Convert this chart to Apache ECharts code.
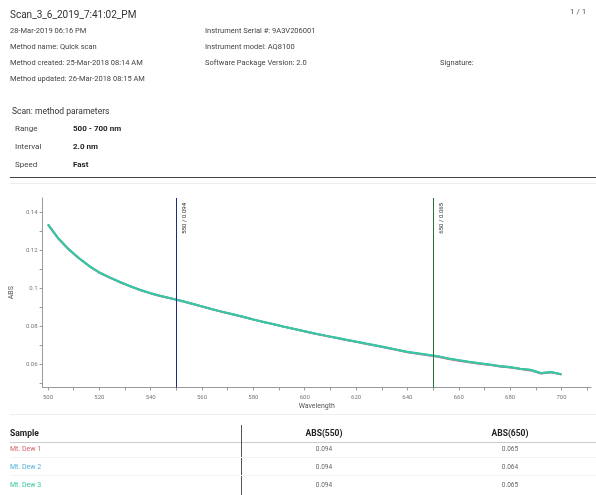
<!DOCTYPE html>
<html>
<head>
<meta charset="utf-8">
<script src="https://cdn.jsdelivr.net/npm/echarts@6/dist/echarts.min.js"></script>
<style>
  html, body { margin: 0; padding: 0; background: #fff; }
  body { width: 596px; height: 495px; position: relative; overflow: hidden; font-family: Roboto, "Noto Sans", sans-serif; }
  #chart { position: absolute; left: 0; top: 0; width: 596px; height: 495px; }
  .t { position: absolute; white-space: nowrap; line-height: 12px; color: #444; font-size: 7.5px; }
  .b { font-weight: bold; color: #222; }
  .line { position: absolute; height: 1px; }
</style>
</head>
<body>
<div id="chart"></div>

<div class="t" style="left:10px;top:9px;font-size:10px;color:#333">Scan_3_6_2019_7:41:02_PM</div>
<div class="t" style="left:570px;top:6px;font-size:8px;color:#555">1 / 1</div>

<div class="t" style="left:10px;top:25px">28-Mar-2019 06:16 PM</div>
<div class="t" style="left:10px;top:41px">Method name: Quick scan</div>
<div class="t" style="left:10px;top:57px">Method created: 25-Mar-2018 08:14 AM</div>
<div class="t" style="left:10px;top:73px">Method updated: 26-Mar-2018 08:15 AM</div>
<div class="t" style="left:205px;top:25px">Instrument Serial #: 9A3V206001</div>
<div class="t" style="left:205px;top:41px">Instrument model: AQ8100</div>
<div class="t" style="left:205px;top:57px">Software Package Version: 2.0</div>
<div class="t" style="left:440px;top:57px">Signature:</div>

<div class="t" style="left:12px;top:105px;font-size:8.5px;color:#333">Scan: method parameters</div>
<div class="t" style="left:15px;top:123px;font-size:8px">Range</div>
<div class="t b" style="left:73px;top:123px;font-size:8px">500 - 700 nm</div>
<div class="t" style="left:15px;top:141px;font-size:8px">Interval</div>
<div class="t b" style="left:73px;top:141px;font-size:8px">2.0 nm</div>
<div class="t" style="left:15px;top:159px;font-size:8px">Speed</div>
<div class="t b" style="left:73px;top:159px;font-size:8px">Fast</div>
<div class="line" style="left:10px;top:177px;width:586px;background:#444"></div>
<div class="line" style="left:10px;top:183px;width:586px;background:#eee"></div>
<div class="line" style="left:10px;top:414px;width:586px;background:#eee"></div>

<div id="table"></div>

<script>
// sample names and table values
const samples = ["Mt. Dew 1", "Mt. Dew 2", "Mt. Dew 3"];
const sampleColors = ["#d9606a", "#4fb3d9", "#38c79f"];
const abs550 = ["0.094", "0.094", "0.094"];
const abs650 = ["0.065", "0.064", "0.065"];

// marker lines
const markerNm = [550, 650];
const markerAbs = ["0.094", "0.065"];

// axis ticks
const xLabels = [500, 520, 540, 560, 580, 600, 620, 640, 660, 680, 700];
const xTicks = [500, 510, 520, 530, 540, 550, 560, 570, 580, 590, 600, 610, 620, 630, 640, 650, 660, 670, 680, 690, 700, 710];
const yLabels = [0.06, 0.08, 0.1, 0.12, 0.14];
const yTicks = [0.05, 0.06, 0.07, 0.08, 0.09, 0.1, 0.11, 0.12, 0.13, 0.14];

// spectra
const wavelength = [500,504,508,512,516,520,524,528,532,536,540,544,548,552,556,560,564,568,572,576,
  580,584,588,592,596,600,604,608,612,616,620,624,628,632,636,640,644,648,652,656,
  660,664,668,672,676,680,684,688,692,696,700];
const dew1 = [0.1334,0.1261,0.1204,0.1157,0.1116,0.1081,0.1055,0.1031,0.1009,0.0989,
  0.0972,0.0957,0.0945,0.0932,0.0918,0.0903,0.0888,0.0874,0.0861,0.0848,
  0.0834,0.0821,0.0809,0.0796,0.0784,0.0772,0.0760,0.0749,0.0738,0.0727,
  0.0717,0.0706,0.0696,0.0685,0.0674,0.0663,0.0655,0.0647,0.0639,0.0627,
  0.0618,0.0610,0.0602,0.0596,0.0588,0.0582,0.0574,0.0567,0.0551,0.0557,0.0545];
const dew2 = [0.1335,0.1262,0.1205,0.1158,0.1117,0.1082,0.1056,0.1032,0.1010,0.0990,
  0.0973,0.0958,0.0945,0.0932,0.0918,0.0903,0.0889,0.0875,0.0862,0.0849,
  0.0835,0.0822,0.0810,0.0797,0.0785,0.0773,0.0761,0.0750,0.0739,0.0728,
  0.0718,0.0707,0.0697,0.0686,0.0675,0.0664,0.0656,0.0648,0.0640,0.0629,
  0.0620,0.0611,0.0604,0.0597,0.0589,0.0584,0.0575,0.0569,0.0552,0.0558,0.0546];
const dew3 = [0.1335,0.1262,0.1205,0.1158,0.1117,0.1082,0.1056,0.1032,0.1010,0.0990,
  0.0973,0.0958,0.0946,0.0933,0.0919,0.0904,0.0889,0.0875,0.0862,0.0849,
  0.0835,0.0822,0.0810,0.0797,0.0785,0.0773,0.0761,0.0750,0.0740,0.0729,
  0.0719,0.0708,0.0698,0.0687,0.0676,0.0665,0.0657,0.0650,0.0642,0.0630,
  0.0621,0.0612,0.0605,0.0598,0.0590,0.0585,0.0576,0.0570,0.0553,0.0559,0.0547];

// table
let html = '';
html += '<div class="t b" style="left:10px;top:427px;font-size:8.5px">Sample</div>';
html += '<div class="t b" style="left:284px;width:80px;text-align:center;top:427px;font-size:8.5px">ABS(550)</div>';
html += '<div class="t b" style="left:470px;width:80px;text-align:center;top:427px;font-size:8.5px">ABS(650)</div>';
html += '<div class="line" style="left:10px;top:442px;width:586px;background:#ccc"></div>';
html += '<div style="position:absolute;left:241px;top:425px;width:1px;height:70px;background:#555"></div>';
samples.forEach((s, i) => {
  const y = 443 + i * 18;
  html += '<div class="t" style="left:10px;top:' + y + 'px;font-size:7px;color:' + sampleColors[i] + '">' + s + '</div>';
  html += '<div class="t" style="left:284px;width:80px;text-align:center;top:' + y + 'px;font-size:6.5px;color:#666">' + abs550[i] + '</div>';
  html += '<div class="t" style="left:470px;width:80px;text-align:center;top:' + y + 'px;font-size:6.5px;color:#666">' + abs650[i] + '</div>';
  if (i < samples.length - 1) {
    html += '<div class="line" style="left:10px;top:' + (y + 14) + 'px;width:586px;background:#f4f4f4"></div>';
  }
});
document.getElementById("table").innerHTML = html;

const myChart = echarts.init(document.getElementById("chart"));
const markColors = ["#1f2a88", "#2a6e35"];
myChart.setOption({
  animation: false,
  grid: { left: 40, top: 198, width: 551, height: 189.5 },
  xAxis: {
    type: "value",
    min: 497.9,
    max: 711.5,
    name: "Wavelength",
    nameLocation: "middle",
    nameGap: 15,
    nameTextStyle: { fontSize: 7, color: "#555", fontFamily: "Roboto" },
    axisLine: { lineStyle: { color: "#999", width: 1 } },
    axisTick: { customValues: xTicks, length: 3, lineStyle: { color: "#999" } },
    axisLabel: { customValues: xLabels, fontSize: 6, color: "#777", margin: 7, fontFamily: "Roboto" },
    splitLine: { show: false }
  },
  yAxis: {
    type: "value",
    min: 0.0477,
    max: 0.1474,
    name: "ABS",
    nameLocation: "middle",
    nameGap: 19,
    nameRotate: 90,
    nameTextStyle: { fontSize: 7, color: "#555", fontFamily: "Roboto" },
    axisLine: { show: true, lineStyle: { color: "#999", width: 1 } },
    axisTick: { show: true, customValues: yTicks, length: 3, lineStyle: { color: "#999" } },
    axisLabel: { customValues: yLabels, fontSize: 6, color: "#777", margin: 5, fontFamily: "Roboto" },
    splitLine: { show: false }
  },
  series: [
    { name: samples[0], type: "line", symbol: "none", color: sampleColors[0], lineStyle: { width: 2 },
      data: wavelength.map((w, i) => [w, dew1[i]]) },
    { name: samples[1], type: "line", symbol: "none", color: sampleColors[1], lineStyle: { width: 2 },
      data: wavelength.map((w, i) => [w, dew2[i]]) },
    { name: samples[2], type: "line", symbol: "none", color: sampleColors[2], lineStyle: { width: 2 },
      data: wavelength.map((w, i) => [w, dew3[i]]),
      markLine: {
        silent: true,
        symbol: "none",
        data: markerNm.map((nm, i) => ({
          xAxis: nm,
          lineStyle: { color: markColors[i], width: 1, type: "solid" },
          label: {
            show: true,
            formatter: nm + " / " + markerAbs[i],
            position: "insideEndBottom",
            fontSize: 6,
            color: "#333",
            fontFamily: "Roboto"
          }
        }))
      }
    }
  ]
});
</script>
</body>
</html>
